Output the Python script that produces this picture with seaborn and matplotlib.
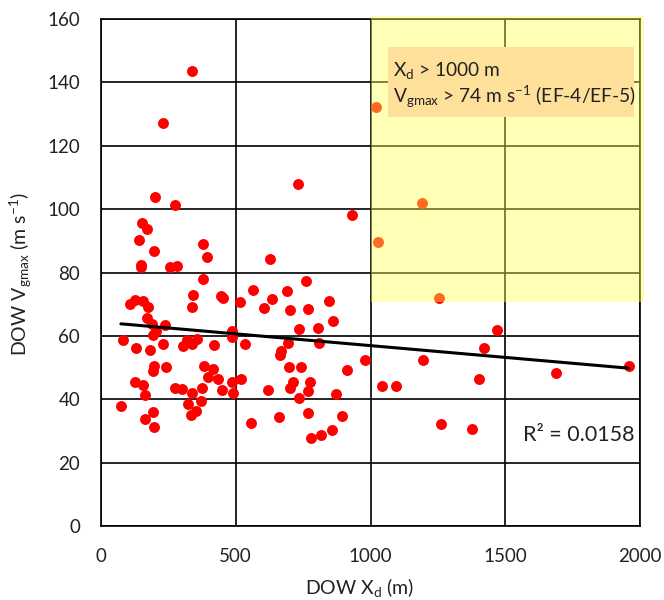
import numpy as np
import pandas as pd
import matplotlib
matplotlib.use("Agg")
import matplotlib.pyplot as plt
from matplotlib.patches import Rectangle
import seaborn as sns

# valores (distancia Xd en m, velocidad Vgmax en m/s)
xd = [336, 229, 1019, 731, 200, 276, 1192, 933, 151, 172, 142, 1029, 378, 197,
      394, 628, 150, 147, 255, 283, 377, 761, 563, 690, 343, 444, 452, 1255,
      847, 106, 125, 155, 174, 337, 517, 633, 604, 702, 769, 860, 172, 191,
      237, 192, 204, 736, 805, 485, 485, 82, 131, 182, 230, 304, 320, 338,
      357, 419, 535, 695, 809, 668, 664, 980, 198, 194, 243, 382, 416, 397,
      434, 698, 743, 912, 128, 157, 163, 276, 300, 338, 375, 450, 487, 518,
      489, 618, 712, 703, 777, 769, 873, 736, 1042, 1093, 74, 371, 324, 193,
      162, 197, 353, 333, 555, 661, 767, 896, 858, 815, 779, 1468, 1421, 1196,
      1401, 1689, 1958, 1262, 1377]
vg = [143.6, 127.1, 132.1, 107.9, 103.7, 101.4, 101.8, 98.3, 95.7, 93.8, 90.3,
      89.5, 88.9, 86.8, 84.9, 84.2, 82.5, 81.8, 81.8, 81.9, 77.9, 77.4, 74.4,
      74.2, 72.9, 72.6, 72.0, 72.0, 71.1, 70.2, 71.4, 71.0, 69.0, 69.0, 70.8,
      71.5, 68.7, 68.1, 68.5, 64.6, 65.5, 63.9, 63.3, 60.3, 61.6, 62.1, 62.6,
      61.6, 59.5, 58.7, 56.2, 55.5, 57.3, 56.8, 58.7, 57.6, 59.0, 57.0, 57.3,
      57.8, 57.9, 55.1, 53.9, 52.3, 50.4, 48.9, 50.2, 50.4, 49.7, 47.1, 46.3,
      50.3, 50.1, 49.2, 45.3, 44.5, 41.3, 43.4, 43.1, 42.0, 43.6, 42.8, 45.6,
      46.3, 42.1, 42.9, 45.4, 43.7, 45.4, 42.6, 41.8, 40.5, 44.2, 44.2, 38.0,
      39.6, 38.4, 35.9, 33.8, 31.3, 36.2, 35.0, 32.6, 34.4, 35.6, 34.8, 30.2,
      28.6, 27.8, 61.8, 56.3, 52.3, 46.4, 48.4, 50.6, 32.3, 30.5]

df = pd.DataFrame({"xd": xd, "vg": vg})

sns.set_style("white")
plt.rcParams['font.family'] = ['Lato', 'DejaVu Sans']
plt.rcParams['mathtext.fontset'] = 'custom'
plt.rcParams['mathtext.rm'] = 'Lato'
plt.rcParams['mathtext.it'] = 'Lato:italic'

fig = plt.figure(figsize=(6.64, 6.0), dpi=100)
ax = fig.add_axes([0.152, 0.1233, 0.812, 0.845])

sns.scatterplot(data=df, x="xd", y="vg", ax=ax, color="#FF0000", s=62,
                linewidth=0, zorder=3)
sns.regplot(data=df, x="xd", y="vg", ax=ax, scatter=False, ci=None,
            truncate=True, line_kws={"color": "black", "lw": 2.2, "zorder": 4})

ax.set_xlim(0, 2000)
ax.set_ylim(0, 160)
ax.set_xticks(np.arange(0, 2001, 500))
ax.set_yticks(np.arange(0, 161, 20))
ax.grid(True, color="black", lw=1.2, zorder=1)
ax.set_axisbelow(True)
for s in ax.spines.values():
    s.set_color("black")
    s.set_linewidth(1.2)
ax.tick_params(axis="both", length=0, labelsize=13.5, labelcolor="#222222")
ax.tick_params(axis="x", pad=16)
ax.tick_params(axis="y", pad=15)

ax.set_xlabel(r"DOW X$_{\mathrm{d}}$ (m)", fontsize=14, color="#222222",
              va="center")
ax.set_ylabel(r"DOW V$_{\mathrm{gmax}}$ (m s$^{-1}$)", fontsize=14,
              color="#222222", va="center")
ax.xaxis.set_label_coords(0.48, -0.122)
ax.yaxis.set_label_coords(-0.148, 0.497)

# zona amarilla EF-4/EF-5
ax.add_patch(Rectangle((1000, 70.6), 1015, 90.2, facecolor="#FFFF50",
                       edgecolor="none", alpha=0.42, zorder=5, clip_on=False))

# recuadro del texto
ax.add_patch(Rectangle((1065, 129.0), 913, 22.1, facecolor="#FFE09A",
                       edgecolor="none", zorder=6))
ax.text(1083, 143.8, "X$_{\\mathrm{d}}$ > 1000 m", fontsize=13.8,
        va="center", ha="left", color="#222222", zorder=7)
ax.text(1083, 135.3, "V$_{\\mathrm{gmax}}$ > 74 m s$^{-1}$ (EF-4/EF-5)",
        fontsize=13.8, va="center", ha="left", color="#222222", zorder=7)

ax.text(1978, 28.7, "R² = 0.0158", fontsize=15.5, ha="right", va="center",
        color="#222222", zorder=7,
        bbox=dict(boxstyle="square,pad=0.15", facecolor="white",
                  edgecolor="none"))

fig.savefig("out.png", dpi=100)
